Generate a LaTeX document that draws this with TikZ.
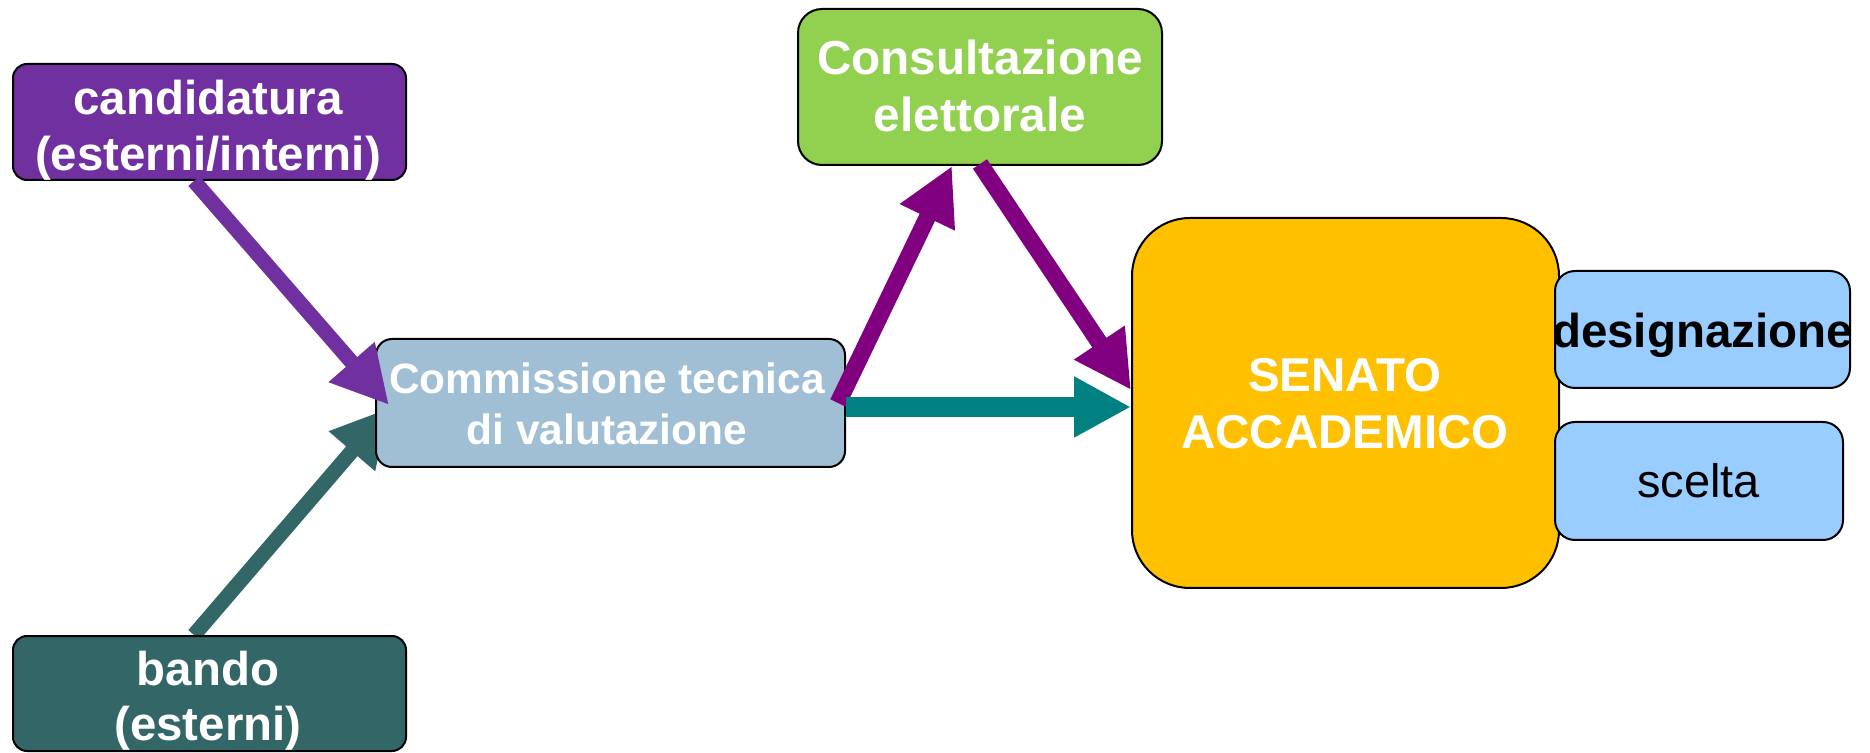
\documentclass[tikz,border=0pt]{standalone}
\usepackage{fontspec}
\setmainfont{Liberation Sans}
\usetikzlibrary{arrows.meta,calc,backgrounds}
\definecolor{cpurple}{HTML}{7030A0}
\definecolor{cbando}{HTML}{336666}
\definecolor{ccomm}{HTML}{A0BFD4}
\definecolor{ccons}{HTML}{92D050}
\definecolor{csenato}{HTML}{FFC000}
\definecolor{cblue}{HTML}{99CCFF}
\definecolor{carrowp}{HTML}{800080}
\definecolor{carrowt}{HTML}{008080}
\begin{document}
\begin{tikzpicture}[x=0.5pt,y=-0.5pt,
  box/.style={draw=black, line width=1pt, rounded corners=#1, inner sep=0pt},
  txt/.style={inner sep=0pt, align=center, text=white},
  arr/.style={line width=#1, -{Triangle[length=28.5pt,width=28.5pt]}}]
\useasboundingbox (0,0) rectangle (1870,753);
% boxes
\node[box=7pt, fill=cpurple, minimum width=196.5pt, minimum height=58pt] (cand) at (209.5,122) {};
\node[box=7pt, fill=cbando, minimum width=196.5pt, minimum height=57.5pt] (bando) at (209.5,693.5) {};
\node[box=8pt, fill=ccomm, minimum width=234.5pt, minimum height=64pt] (comm) at (610.5,403) {};
\node[box=12pt, fill=ccons, minimum width=182pt, minimum height=78pt] (cons) at (980,87) {};
\node[box=29pt, fill=csenato, minimum width=213.5pt, minimum height=185pt] (senato) at (1345.5,403) {};
\node[box=10pt, fill=cblue, minimum width=147.5pt, minimum height=58.5pt] (desig) at (1702.5,329.5) {};
\node[box=10pt, fill=cblue, minimum width=144pt, minimum height=59pt] (scelta) at (1699,481) {};
% texts
\node[txt, font=\fontsize{23.75pt}{28pt}\selectfont\bfseries] (candT) at (208,130) {candidatura\\(esterni/interni)};
\node[txt, font=\fontsize{23.7pt}{27.5pt}\selectfont\bfseries] (bandoT) at (208,701) {bando\\(esterni)};
\node[txt, font=\fontsize{21.2pt}{25.5pt}\selectfont\bfseries] (commT) at (607,404) {Commissione tecnica\\di valutazione};
\node[txt, font=\fontsize{23.85pt}{28.5pt}\selectfont\bfseries] (consT) at (980,86) {Consultazione\\elettorale};
\node[txt, font=\fontsize{23.75pt}{28.5pt}\selectfont\bfseries] (senT) at (1345,404) {SENATO\\ACCADEMICO};
\node[txt, text=black, font=\fontsize{23.75pt}{28pt}\selectfont\bfseries] (desigT) at (1702.5,335) {designazione};
\node[txt, text=black, font=\fontsize{23.5pt}{28pt}\selectfont] (sceltaT) at (1698.5,481) {scelta};
% arrows
\begin{pgfonlayer}{background}
\draw[arr=7.5pt, cbando] ($(bando.north west)+(182,0)$) -- ($(comm.west)+(14,5)$);
\end{pgfonlayer}
\draw[arr=7.5pt, cpurple] ($(cand.south west)+(182,0)$) -- ($(comm.west)+(14,2)$);
\draw[arr=8.5pt, carrowp] ($(comm.east)+(-8,0)$) -- ($(cons.south)+(-28,0)$);
\draw[arr=8.5pt, carrowp] ($(cons.south)+(0,-2)$) -- ($(senato.west)+(0,-13)$);
\draw[arr=10pt, carrowt] ($(comm.east)+(0,4)$) -- ($(senato.west)+(0,4)$);
\end{tikzpicture}
\end{document}
